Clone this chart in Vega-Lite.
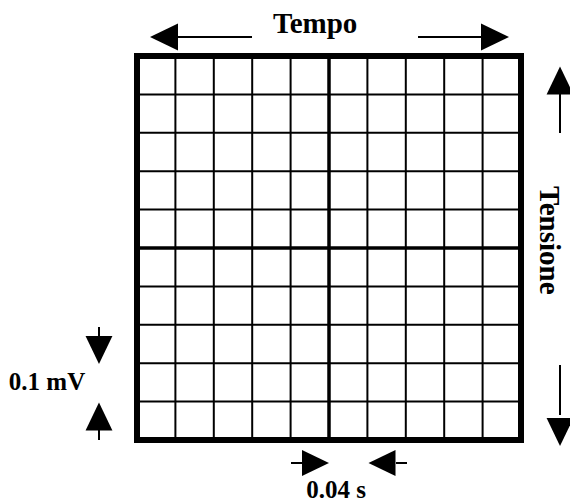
{
  "$schema": "https://vega.github.io/schema/vega-lite/v6.json",
  "width": 384,
  "height": 384,
  "autosize": {"type": "none"},
  "padding": {"left": 137, "top": 56, "right": 49, "bottom": 64},
  "background": "white",
  "config": {"view": {"stroke": null}, "font": "Liberation Serif"},
  "datasets": {
    "grid": [
      {"pos": 1, "weight": "minor"}, {"pos": 2, "weight": "minor"}, {"pos": 3, "weight": "minor"},
      {"pos": 4, "weight": "minor"}, {"pos": 5, "weight": "major"}, {"pos": 6, "weight": "minor"},
      {"pos": 7, "weight": "minor"}, {"pos": 8, "weight": "minor"}, {"pos": 9, "weight": "minor"}
    ],
    "box": [{"x": 0, "x2": 10, "y": 0, "y2": 10}],
    "shafts": [
      {"x": 1.068, "x2": 2.995, "y": 10.495, "y2": 10.495},
      {"x": 7.318, "x2": 8.984, "y": 10.495, "y2": 10.495},
      {"x": 11.016, "x2": 11.016, "y": 9.01, "y2": 7.995},
      {"x": 11.016, "x2": 11.016, "y": 1.953, "y2": 0.651},
      {"x": -0.99, "x2": -0.99, "y": 2.943, "y2": 2.682},
      {"x": -0.99, "x2": -0.99, "y": 0.26, "y2": 0.0},
      {"x": 4.01, "x2": 4.297, "y": -0.599, "y2": -0.599},
      {"x": 6.745, "x2": 7.031, "y": -0.599, "y2": -0.599}
    ],
    "heads": [
      {"x": 0.703, "y": 10.495, "dir": "left", "set": "main"},
      {"x": 9.323, "y": 10.495, "dir": "right", "set": "main"},
      {"x": 11.016, "y": 9.362, "dir": "up", "set": "main"},
      {"x": 11.016, "y": 0.208, "dir": "down", "set": "main"},
      {"x": -0.99, "y": 2.344, "dir": "down", "set": "main"},
      {"x": -0.99, "y": 0.612, "dir": "up", "set": "main"},
      {"x": 4.648, "y": -0.599, "dir": "right", "set": "bottom"},
      {"x": 6.38, "y": -0.599, "dir": "left", "set": "bottom"}
    ],
    "labels": [
      {"x": 4.64, "y": 10.6, "text": "Tempo", "kind": "title"},
      {"x": -2.344, "y": 1.302, "text": "0.1 mV", "kind": "label"},
      {"x": 5.182, "y": -1.52, "text": "0.04 s", "kind": "label"},
      {"x": 10.72, "y": 5.2, "text": "Tensione", "kind": "v"}
    ]
  },
  "layer": [
    {
      "data": {"name": "grid"},
      "transform": [{"filter": "datum.weight == 'minor'"}],
      "mark": {"type": "rule", "color": "black", "strokeWidth": 2},
      "encoding": {
        "x": {"field": "pos", "type": "quantitative", "scale": {"domain": [0, 10], "nice": false, "zero": false}, "axis": null},
        "y": {"datum": 0, "type": "quantitative", "scale": {"domain": [0, 10], "nice": false, "zero": false}, "axis": null},
        "y2": {"datum": 10}
      }
    },
    {
      "data": {"name": "grid"},
      "transform": [{"filter": "datum.weight == 'minor'"}],
      "mark": {"type": "rule", "color": "black", "strokeWidth": 2},
      "encoding": {
        "y": {"field": "pos", "type": "quantitative", "scale": {"domain": [0, 10], "nice": false, "zero": false}, "axis": null},
        "x": {"datum": 0, "type": "quantitative", "scale": {"domain": [0, 10], "nice": false, "zero": false}, "axis": null},
        "x2": {"datum": 10}
      }
    },
    {
      "data": {"name": "grid"},
      "transform": [{"filter": "datum.weight == 'major'"}],
      "mark": {"type": "rule", "color": "black", "strokeWidth": 3.5},
      "encoding": {
        "x": {"field": "pos", "type": "quantitative", "scale": {"domain": [0, 10], "nice": false, "zero": false}, "axis": null},
        "y": {"datum": 0, "type": "quantitative", "scale": {"domain": [0, 10], "nice": false, "zero": false}, "axis": null},
        "y2": {"datum": 10}
      }
    },
    {
      "data": {"name": "grid"},
      "transform": [{"filter": "datum.weight == 'major'"}],
      "mark": {"type": "rule", "color": "black", "strokeWidth": 3.5},
      "encoding": {
        "y": {"field": "pos", "type": "quantitative", "scale": {"domain": [0, 10], "nice": false, "zero": false}, "axis": null},
        "x": {"datum": 0, "type": "quantitative", "scale": {"domain": [0, 10], "nice": false, "zero": false}, "axis": null},
        "x2": {"datum": 10}
      }
    },
    {
      "data": {"name": "box"},
      "mark": {"type": "rect", "fill": null, "filled": false, "stroke": "black", "strokeWidth": 6},
      "encoding": {
        "x": {"field": "x", "type": "quantitative", "scale": {"domain": [0, 10], "nice": false, "zero": false}, "axis": null},
        "x2": {"field": "x2"},
        "y": {"field": "y", "type": "quantitative", "scale": {"domain": [0, 10], "nice": false, "zero": false}, "axis": null},
        "y2": {"field": "y2"}
      }
    },
    {
      "data": {"name": "shafts"},
      "mark": {"type": "rule", "color": "black", "strokeWidth": 2},
      "encoding": {
        "x": {"field": "x", "type": "quantitative", "scale": {"domain": [0, 10], "nice": false, "zero": false}, "axis": null},
        "x2": {"field": "x2"},
        "y": {"field": "y", "type": "quantitative", "scale": {"domain": [0, 10], "nice": false, "zero": false}, "axis": null},
        "y2": {"field": "y2"}
      }
    },
    {
      "data": {"name": "heads"},
      "transform": [{"filter": "datum.set == 'main'"}],
      "mark": {"type": "point", "filled": true, "color": "black", "opacity": 1, "size": 784, "strokeWidth": 0},
      "encoding": {
        "x": {"field": "x", "type": "quantitative", "scale": {"domain": [0, 10], "nice": false, "zero": false}, "axis": null},
        "y": {"field": "y", "type": "quantitative", "scale": {"domain": [0, 10], "nice": false, "zero": false}, "axis": null},
        "shape": {"field": "dir", "type": "nominal", "legend": null, "scale": {"domain": ["left", "right", "up", "down"], "range": ["M-1,0L1,-0.96L1,0.96Z", "M1,0L-1,-0.96L-1,0.96Z", "M0,-1L-0.96,1L0.96,1Z", "M0,1L-0.96,-1L0.96,-1Z"]}}
      }
    },
    {
      "data": {"name": "heads"},
      "transform": [{"filter": "datum.set == 'bottom'"}],
      "mark": {"type": "point", "filled": true, "color": "black", "opacity": 1, "size": 729, "strokeWidth": 0},
      "encoding": {
        "x": {"field": "x", "type": "quantitative", "scale": {"domain": [0, 10], "nice": false, "zero": false}, "axis": null},
        "y": {"field": "y", "type": "quantitative", "scale": {"domain": [0, 10], "nice": false, "zero": false}, "axis": null},
        "shape": {"field": "dir", "type": "nominal", "legend": null, "scale": {"domain": ["left", "right"], "range": ["M-1,0L1,-0.74L1,0.74Z", "M1,0L-1,-0.74L-1,0.74Z"]}}
      }
    },
    {
      "data": {"name": "labels"},
      "transform": [{"filter": "datum.kind == 'title'"}],
      "mark": {"type": "text", "font": "Liberation Serif", "fontWeight": "bold", "fontSize": 29, "align": "center", "baseline": "alphabetic", "color": "black"},
      "encoding": {
        "x": {"field": "x", "type": "quantitative", "scale": {"domain": [0, 10], "nice": false, "zero": false}, "axis": null},
        "y": {"field": "y", "type": "quantitative", "scale": {"domain": [0, 10], "nice": false, "zero": false}, "axis": null},
        "text": {"field": "text"}
      }
    },
    {
      "data": {"name": "labels"},
      "transform": [{"filter": "datum.kind == 'label'"}],
      "mark": {"type": "text", "font": "Liberation Serif", "fontWeight": "bold", "fontSize": 25, "align": "center", "baseline": "alphabetic", "color": "black"},
      "encoding": {
        "x": {"field": "x", "type": "quantitative", "scale": {"domain": [0, 10], "nice": false, "zero": false}, "axis": null},
        "y": {"field": "y", "type": "quantitative", "scale": {"domain": [0, 10], "nice": false, "zero": false}, "axis": null},
        "text": {"field": "text"}
      }
    },
    {
      "data": {"name": "labels"},
      "transform": [{"filter": "datum.kind == 'v'"}],
      "mark": {"type": "text", "font": "Liberation Serif", "fontWeight": "bold", "fontSize": 29, "align": "center", "baseline": "middle", "angle": 90, "color": "black"},
      "encoding": {
        "x": {"field": "x", "type": "quantitative", "scale": {"domain": [0, 10], "nice": false, "zero": false}, "axis": null},
        "y": {"field": "y", "type": "quantitative", "scale": {"domain": [0, 10], "nice": false, "zero": false}, "axis": null},
        "text": {"field": "text"}
      }
    }
  ]
}
